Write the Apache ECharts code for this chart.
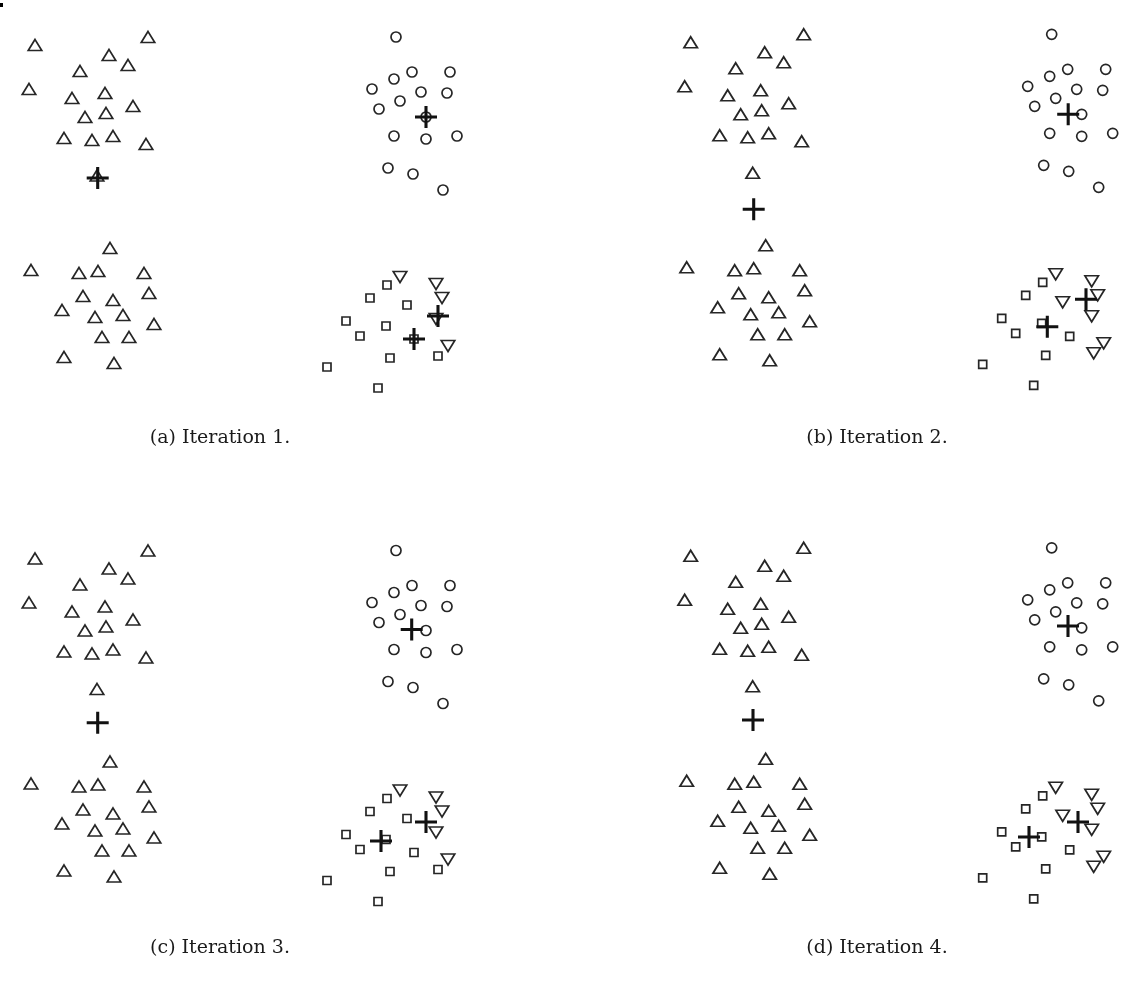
<!DOCTYPE html>
<html>
<head>
<meta charset="utf-8">
<script src="https://cdn.jsdelivr.net/npm/echarts@6/dist/echarts.min.js"></script>
<style>
html,body{margin:0;padding:0;background:#fff;}
#chart{width:1148px;height:998px;}
</style>
</head>
<body>
<div id="chart"></div>
<script>
// Captions of the four panels
const captions = ['(a) Iteration 1.', '(b) Iteration 2.', '(c) Iteration 3.', '(d) Iteration 4.'];

// Left group (always drawn as up-triangles): [x, y]
const leftPoints = [
  [35,375],[148,383],[109,365],[128,355],[80,349],[29,331],[72,322],[105,327],[133,314],
  [85,303],[106,307],[64,282],[92,280],[113,284],[146,276],
  [97,244.5],
  [110,172],[31,150],[79,147],[98,149],[144,147],[83,124],[149,127],[113,120],[62,110],
  [95,103],[123,105],[154,96],[102,83],[129,83],[64,63],[114,57]
];

// Upper-right group (always circles)
const circlePoints = [
  [396,383],[412,348],[450,348],[394,341],[372,331],[421,328],[447,327],[400,319],
  [379,311],[426,303],[394,284],[426,281],[457,284],[388,252],[413,246],[443,230]
];

// Lower-right group (squares or down-triangles depending on iteration)
const lowerPoints = [
  [387,135],[370,122],[407,115],[346,99],[386,94],[360,84],[414,81],[390,62],[438,64],
  [327,53],[378,32],
  [400,143],[436,136],[442,122],[436,101],[448,74]
];

// Assignment of lowerPoints per iteration: 0 = square, 1 = down-triangle
const lowerAssign = [
  [0,0,0,0,0,0,0,0,0,0,0,1,1,1,1,1],
  [0,0,1,0,0,0,0,0,1,0,0,1,1,1,1,1],
  [0,0,0,0,0,0,0,0,0,0,0,1,1,1,1,1],
  [0,0,1,0,0,0,0,0,1,0,0,1,1,1,1,1]
];

// Centroids per iteration
const centroids = [
  [[97.7,242],[426,303],[438,104],[414,81]],
  [[98,208],[412.5,303],[430.3,118],[391.6,90.6]],
  [[97.7,210.8],[411.7,304],[426,111.5],[381,92.5]],
  [[97.3,210.8],[412.3,304.8],[422.3,108.8],[373.3,93.8]]
];

// Panel placement
const panelPos = [[0,20],[655.7,17.3],[0,533.5],[655.7,530.8]];
const captionPos = [[220,438],[877,438],[220,948],[877,948]];

const stroke = '#262626';
const hollow = {color: 'rgba(255,255,255,0)', borderColor: stroke, borderWidth: 1.7, opacity: 1};
const plusPath = 'path://M-10,-1.4H10V1.4H-10Z M-1.4,-10H1.4V10H-1.4Z';

const grids = [], xAxes = [], yAxes = [], series = [], graphics = [];
for (let p = 0; p < 4; p++) {
  grids.push({left: panelPos[p][0], top: panelPos[p][1], width: 480, height: 400, containLabel: false});
  xAxes.push({gridIndex: p, type: 'value', min: 0, max: 480, show: false});
  yAxes.push({gridIndex: p, type: 'value', min: 0, max: 400, show: false});
  const sq = [], dt = [];
  lowerPoints.forEach((pt, i) => (lowerAssign[p][i] ? dt : sq).push(pt));
  series.push({type: 'scatter', xAxisIndex: p, yAxisIndex: p, data: leftPoints,
    symbol: 'triangle', symbolSize: [13.5, 11], itemStyle: hollow, silent: true});
  series.push({type: 'scatter', xAxisIndex: p, yAxisIndex: p, data: circlePoints,
    symbol: 'circle', symbolSize: 10, itemStyle: hollow, silent: true});
  series.push({type: 'scatter', xAxisIndex: p, yAxisIndex: p, data: sq,
    symbol: 'rect', symbolSize: 8, itemStyle: hollow, silent: true});
  series.push({type: 'scatter', xAxisIndex: p, yAxisIndex: p, data: dt,
    symbol: 'triangle', symbolRotate: 180, symbolSize: [13.5, 11], itemStyle: hollow, silent: true});
  series.push({type: 'scatter', xAxisIndex: p, yAxisIndex: p, data: centroids[p],
    symbol: plusPath, symbolSize: 22, itemStyle: {color: '#111', opacity: 1}, z: 5, silent: true});
  graphics.push({type: 'text', x: captionPos[p][0], y: captionPos[p][1],
    style: {text: captions[p], fill: '#1a1a1a', font: '19px "DejaVu Serif"', textAlign: 'center', textVerticalAlign: 'middle'}});
}
graphics.push({type: 'rect', shape: {x: 0, y: 3, width: 3, height: 4}, style: {fill: '#000'}});

const chart = echarts.init(document.getElementById('chart'));
chart.setOption({
  animation: false,
  backgroundColor: '#fff',
  grid: grids, xAxis: xAxes, yAxis: yAxes, series: series, graphic: graphics
});
</script>
</body>
</html>
